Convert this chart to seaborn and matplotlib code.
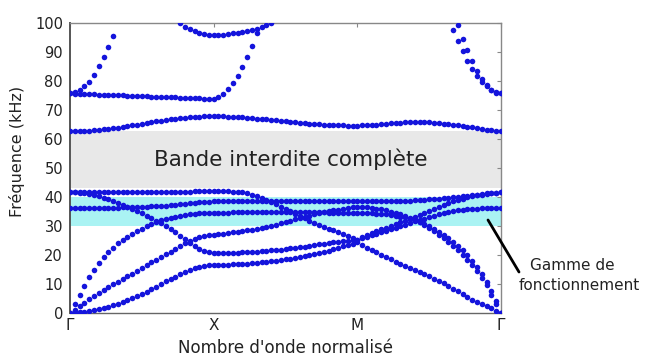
import numpy as np
import pandas as pd
import matplotlib
matplotlib.use("Agg")
import matplotlib.pyplot as plt
import seaborn as sns
from matplotlib.lines import Line2D

N = np.nan  # point outside the visible range (above 100 kHz)

# ---------------- data ----------------
k_labels = ["Γ", "X", "M", "Γ"]
samples_per_segment = 30
freq_ticks = [0, 10, 20, 30, 40, 50, 60, 70, 80, 90, 100]

band_gap = (43.0, 62.8)          # complete band gap (kHz)
working_range = (30.0, 40.0)     # operating range (kHz)

# each band: 91 samples along Γ-X-M-Γ (30 per segment)
band_1 = [0, 0.05, 0.15, 0.3, 0.55, 0.85, 1.2, 1.6, 2.05, 2.5, 3.1, 3.7, 4.3, 5.0, 5.7, 6.5, 7.3, 8.2, 9.0, 9.9,
          10.8, 11.6, 12.4, 13.2, 14.0, 14.7, 15.3, 15.8, 16.2, 16.4, 16.5,
          16.5, 16.55, 16.6, 16.65, 16.7, 16.8, 16.9, 17.05, 17.2, 17.35, 17.5, 17.7, 17.9, 18.15, 18.4, 18.7,
          19.0, 19.3, 19.6, 19.95, 20.3, 20.65, 21.0, 21.4, 21.9, 22.4, 22.9, 23.4, 23.85, 24.3,
          23.4, 22.5, 21.6, 20.8, 20.0, 19.2, 18.4, 17.6, 16.8, 16.1, 15.4, 14.7, 14.0, 13.3, 12.5, 11.7,
          10.9, 10.1, 9.2, 8.3, 7.4, 6.5, 5.5, 4.4, 3.6, 2.9, 2.2, 1.5, 0.7, 0]
band_2 = [0, 1.1, 2.3, 3.4, 4.6, 5.7, 6.8, 7.8, 8.8, 9.8, 10.7, 11.6, 12.5, 13.5, 14.5, 15.5, 16.4, 17.4, 18.3,
          19.2, 20.1, 21.0, 22.0, 23.0, 24.0, 24.7, 25.4, 26.0, 26.4, 26.7, 26.9,
          27.1, 27.3, 27.5, 27.7, 27.95, 28.2, 28.45, 28.7, 29.0, 29.3, 29.65, 30.0, 30.4, 30.85, 31.3, 31.75,
          32.2, 32.6, 33.05, 33.5, 33.9, 34.3, 34.65, 35.0, 35.3, 35.6, 35.9, 36.15, 36.4, 36.6,
          36.55, 36.45, 36.2, 35.95, 35.65, 35.3, 34.9, 34.5, 34.0, 33.4, 32.75, 32.0, 31.15, 30.2, 29.2, 28.1,
          26.95, 25.7, 24.4, 23.0, 21.5, 19.9, 18.2, 16.3, 14.3, 12.1, 9.6, 6.2, 2.9, 0]
band_3 = [0, 3.0, 6.0, 9.3, 12.2, 14.8, 17.1, 19.1, 20.9, 22.5, 23.9, 25.1, 26.2, 27.2, 28.1, 29.0, 29.8, 30.6,
          31.3, 31.9, 32.4, 32.8, 33.2, 33.5, 33.8, 34.0, 34.2, 34.3, 34.4, 34.5, 34.5,
          34.5, 34.5, 34.5, 34.6, 34.6, 34.6, 34.6, 34.7, 34.7, 34.7, 34.7, 34.7, 34.7, 34.7, 34.7, 34.7,
          34.7, 34.7, 34.7, 34.6, 34.6, 34.6, 34.6, 34.5, 34.5, 34.5, 34.5, 34.4, 34.4, 34.4,
          34.4, 34.35, 34.3, 34.2, 34.1, 33.9, 33.7, 33.5, 33.2, 32.9, 32.5, 32.0, 31.4, 30.7, 29.9, 29.0,
          28.0, 26.9, 25.7, 24.4, 23.0, 21.5, 19.8, 17.9, 15.8, 13.4, 10.7, 7.6, 4.1, 0]
band_4 = [41.5, 41.5, 41.4, 41.2, 41.0, 40.6, 40.2, 39.7, 39.1, 38.5, 37.9, 37.3, 36.6, 35.9, 35.1, 34.3, 33.5,
          32.6, 31.7, 30.8, 29.8, 28.8, 27.8, 26.6, 25.4, 24.2, 23.1, 22.1, 21.3, 20.8, 20.5,
          20.5, 20.55, 20.6, 20.65, 20.7, 20.8, 20.9, 21.0, 21.1, 21.25, 21.4, 21.5, 21.65, 21.8, 22.0, 22.2,
          22.4, 22.6, 22.85, 23.1, 23.3, 23.55, 23.8, 24.0, 24.25, 24.5, 24.7, 24.9, 25.05, 25.2,
          25.7, 26.2, 26.7, 27.2, 27.7, 28.2, 28.75, 29.3, 29.85, 30.4, 30.95, 31.5, 32.0, 32.5, 33.0, 33.45,
          33.9, 34.3, 34.65, 35.0, 35.3, 35.5, 35.7, 35.85, 35.95, 36.0, 36.05, 36.1, 36.1, 36.1]
band_5 = [36.1, 36.1, 36.1, 36.1, 36.15, 36.15, 36.2, 36.2, 36.25, 36.3, 36.3, 36.35, 36.4, 36.45, 36.5, 36.6,
          36.65, 36.7, 36.8, 36.9, 37.0, 37.2, 37.3, 37.45, 37.6, 37.75, 37.9, 38.05, 38.2, 38.3, 38.4,
          38.4, 38.45, 38.5, 38.5, 38.55, 38.6, 38.6, 38.65, 38.65, 38.7, 38.7, 38.7, 38.7, 38.7, 38.7, 38.7,
          38.7, 38.65, 38.65, 38.6, 38.6, 38.55, 38.5, 38.5, 38.45, 38.45, 38.4, 38.4, 38.4, 38.4,
          38.4, 38.4, 38.4, 38.45, 38.45, 38.5, 38.5, 38.55, 38.6, 38.65, 38.7, 38.8, 38.9, 39.0, 39.1, 39.25,
          39.4, 39.55, 39.7, 39.85, 40.0, 40.2, 40.4, 40.6, 40.8, 41.0, 41.15, 41.3, 41.4, 41.5]
band_6 = [41.5, 41.5, 41.5, 41.5, 41.5, 41.55, 41.55, 41.55, 41.6, 41.6, 41.6, 41.6, 41.65, 41.65, 41.65, 41.7,
          41.7, 41.7, 41.7, 41.75, 41.75, 41.75, 41.8, 41.8, 41.8, 41.8, 41.85, 41.85, 41.85, 41.9, 41.9,
          41.9, 41.9, 41.85, 41.8, 41.7, 41.5, 41.2, 40.8, 40.3, 39.7, 39.0, 38.2, 37.4, 36.6, 35.8, 35.0,
          34.2, 33.4, 32.6, 31.8, 31.0, 30.3, 29.6, 29.0, 28.4, 27.8, 27.2, 26.5, 25.8, 25.2,
          26.0, 26.8, 27.5, 28.2, 28.8, 29.4, 30.0, 30.6, 31.2, 31.8, 32.4, 33.0, 33.7, 34.4, 35.1, 35.8,
          36.5, 37.2, 37.8, 38.4, 38.9, 39.4, 39.8, 40.2, 40.5, 40.8, 41.0, 41.2, 41.4, 41.5]
band_7 = [62.6, 62.6, 62.7, 62.7, 62.8, 62.95, 63.1, 63.3, 63.5, 63.7, 63.9, 64.15, 64.4, 64.7, 64.95, 65.2,
          65.5, 65.75, 66.0, 66.25, 66.5, 66.7, 66.95, 67.1, 67.3, 67.45, 67.6, 67.7, 67.75, 67.8, 67.8,
          67.8, 67.75, 67.7, 67.6, 67.5, 67.4, 67.3, 67.15, 67.0, 66.85, 66.7, 66.5, 66.35, 66.2, 66.0, 65.85,
          65.7, 65.5, 65.35, 65.2, 65.1, 65.0, 64.9, 64.8, 64.75, 64.7, 64.65, 64.6, 64.6, 64.6,
          64.65, 64.7, 64.8, 64.9, 65.05, 65.2, 65.35, 65.5, 65.6, 65.7, 65.75, 65.8, 65.8, 65.75, 65.7, 65.6,
          65.45, 65.3, 65.1, 64.9, 64.7, 64.45, 64.2, 63.95, 63.7, 63.45, 63.2, 63.0, 62.8, 62.6]
band_8 = [75.7, 75.6, 75.6, 75.5, 75.4, 75.4, 75.3, 75.3, 75.2, 75.1, 75.1, 75.0, 74.9, 74.9, 74.8, 74.75,
          74.7, 74.6, 74.6, 74.5, 74.4, 74.4, 74.3, 74.2, 74.2, 74.1, 74.0, 74.0, 73.9, 73.9, 73.8,
          74.3, 75.5, 77.2, 79.3, 81.8, 84.7, 88.2, 92.2, 96.4, N, N, N, N, N, N, N,
          N, N, N, N, N, N, N, N, N, N, N, N, N, N,
          N, N, N, N, N, N, N, N, N, N, N, N, N, N, N, N,
          N, N, N, N, N, N, N, N, N, N, N, N, N, N]
band_9 = [75.7, 76.1, 77.0, 78.3, 79.8, 82.0, 85.0, 88.3, 91.8, 95.6, N, N, N, N, N, N, N,
          N, N, N, N, N, N, N, N, N, N, N, N, N, N,
          N, N, N, N, N, N, N, N, N, N, N, N, N, N, N, N,
          N, N, N, N, N, N, N, N, N, N, N, N, N, N,
          N, N, N, N, N, N, N, N, N, N, N, N, N, N, N, N,
          N, N, N, N, N, N, N, N, N, N, N, N, N, N]
band_10 = [N, N, N, N, N, N, N, N, N, N, N, N, N, N, N, N, N,
           N, N, N, N, N, N, 99.9, 98.7, 97.8, 97.1, 96.5, 96.1, 95.8, 95.7,
           95.8, 95.9, 96.1, 96.4, 96.7, 97.0, 97.3, 97.7, 98.1, 98.6, 99.2, 99.9, N, N, N, N,
           N, N, N, N, N, N, N, N, N, N, N, N, N, N,
           N, N, N, N, N, N, N, N, N, N, N, N, N, N, N, N,
           N, N, N, N, N, N, N, N, N, N, N, N, N, N]
band_11 = [N, N, N, N, N, N, N, N, N, N, N, N, N, N, N, N, N,
           N, N, N, N, N, N, N, N, N, N, N, N, N, N,
           N, N, N, N, N, N, N, N, N, N, N, N, N, N, N, N,
           N, N, N, N, N, N, N, N, N, N, N, N, N, N,
           N, N, N, N, N, N, N, N, N, N, N, N, N, N, N, N,
           N, N, N, 97.6, 93.8, 90.3, 87.0, 84.0, 81.7, 79.8, 78.1, 76.8, 76.0, 75.7]
band_12 = [N, N, N, N, N, N, N, N, N, N, N, N, N, N, N, N, N,
           N, N, N, N, N, N, N, N, N, N, N, N, N, N,
           N, N, N, N, N, N, N, N, N, N, N, N, N, N, N, N,
           N, N, N, N, N, N, N, N, N, N, N, N, N, N,
           N, N, N, N, N, N, N, N, N, N, N, N, N, N, N, N,
           N, N, N, N, 99.3, 94.6, 90.7, 86.9, 83.5, 80.8, 78.6, 77.0, 76.1, 75.7]

bands = [band_1, band_2, band_3, band_4, band_5, band_6, band_7, band_8,
         band_9, band_10, band_11, band_12]

# ---------------- long-form table ----------------
rows = []
for b, vals in enumerate(bands, start=1):
    for i, v in enumerate(vals):
        rows.append({"k": i / samples_per_segment, "freq": v, "band": f"b{b}"})
df = pd.DataFrame(rows).dropna()

# ---------------- style ----------------
sns.set_style("white")
plt.rcParams["font.family"] = ["DejaVu Sans"]

fig = plt.figure(figsize=(6.5, 3.58), dpi=100)
ax = fig.add_axes([70 / 650, 1 - 312.7 / 358, 431 / 650, 289.7 / 358])

ax.axhspan(*band_gap, color="#e8e8e8", zorder=0, lw=0)
ax.axhspan(*working_range, color="#aaf3f3", zorder=0, lw=0)

sns.scatterplot(data=df, x="k", y="freq", color="#1414dc", s=16, linewidth=0,
                ax=ax, legend=False, zorder=3)

ax.set_xlim(0, len(k_labels) - 1)
ax.set_ylim(freq_ticks[0], freq_ticks[-1])
ax.set_xticks(range(len(k_labels)))
ax.set_xticklabels(k_labels)
ax.set_yticks(freq_ticks)

ax.tick_params(axis="both", direction="in", length=3, color="#888888", width=0.8,
               top=True, right=True, labelsize=10.5, labelcolor="#222222")
ax.tick_params(axis="y", pad=5)
ax.tick_params(axis="x", pad=4, labelsize=11)

for side, sp in ax.spines.items():
    sp.set_color("#888888")
    sp.set_linewidth(1.0)
ax.spines["left"].set_color("#555555")
ax.spines["left"].set_linewidth(1.4)
ax.spines["bottom"].set_color("#666666")

ax.set_xlabel("Nombre d'onde normalisé", fontsize=12, color="#222222")
ax.set_ylabel("Fréquence (kHz)", fontsize=11.5, color="#222222")
ax.xaxis.set_label_coords(0.5, -0.092)
ax.yaxis.set_label_coords(-0.104, 0.555)

ax.text(1.537, 50.5, "Bande interdite complète", ha="center", va="baseline",
        fontsize=15.5, color="#222222", zorder=4)

# annotation of the operating range
fig.add_artist(Line2D([488 / 650, 519 / 650], [1 - 220 / 358, 1 - 272 / 358],
                      transform=fig.transFigure, color="black", lw=2.0))
fig.text(530 / 650, 1 - 269.5 / 358, "Gamme de", ha="left", va="baseline",
         fontsize=11, color="#222222")
fig.text(519 / 650, 1 - 290 / 358, "fonctionnement", ha="left", va="baseline",
         fontsize=11, color="#222222")

fig.savefig("out.png", dpi=100, facecolor="white")
